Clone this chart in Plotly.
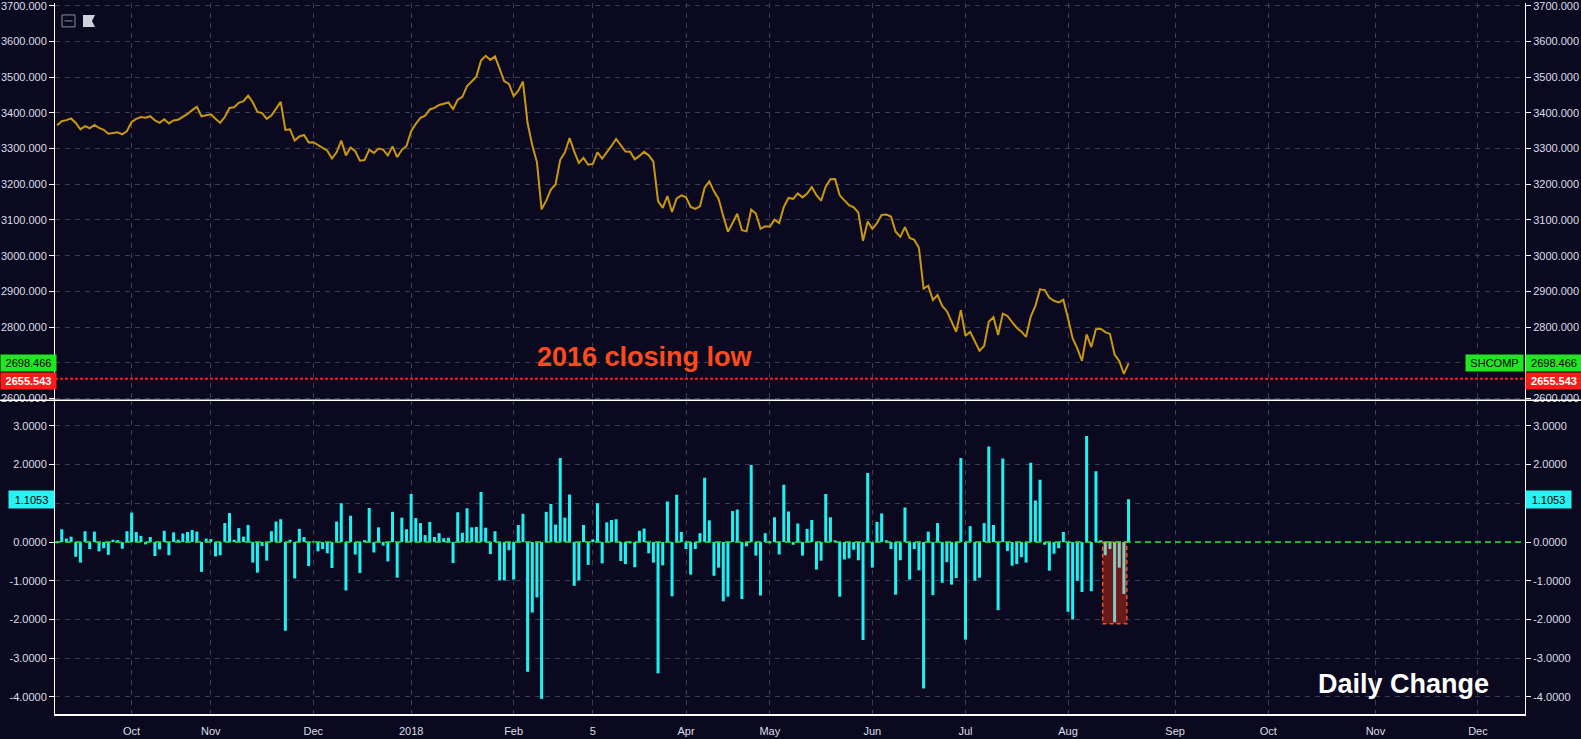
import pandas as pd
import plotly.graph_objects as go

# SHCOMP daily closes, trading days 2017-09-08 .. 2018-08-20
closes = [
    # Sep 2017
    3365.24, 3376.42, 3379.49, 3384.15, 3371.43, 3353.62, 3362.86, 3356.84, 3366.00, 3357.81,
    3352.53, 3341.55, 3343.58, 3345.27, 3339.64, 3348.94,
    # Oct
    3374.38, 3382.99, 3388.28, 3386.10, 3390.52, 3378.47, 3372.04, 3381.79, 3370.17, 3378.65,
    3380.70, 3388.25, 3396.90, 3407.57, 3416.81, 3390.34, 3393.34,
    # Nov
    3395.91, 3383.31, 3371.74, 3388.17, 3413.57, 3415.46, 3427.79, 3432.67, 3447.84, 3429.55,
    3402.52, 3399.25, 3382.91, 3392.40, 3410.50, 3430.46, 3351.92, 3353.82, 3322.23, 3333.66,
    3337.86, 3317.19,
    # Dec
    3317.62, 3309.62, 3303.68, 3293.96, 3272.05, 3289.45, 3322.20, 3280.81, 3303.04, 3292.44,
    3266.14, 3267.92, 3296.54, 3287.61, 3300.06, 3297.06, 3280.46, 3306.12, 3275.78, 3296.38,
    3307.17,
    # Jan 2018
    3348.33, 3369.11, 3385.71, 3391.75, 3409.48, 3413.90, 3421.83, 3425.34, 3428.94, 3410.49,
    3436.59, 3444.67, 3474.75, 3487.86, 3501.36, 3546.50, 3559.47, 3548.31, 3558.13, 3523.00,
    3488.01, 3480.83,
    # Feb
    3446.98, 3462.08, 3487.50, 3370.65, 3309.26, 3262.05, 3129.85, 3154.13, 3184.96, 3199.16,
    3268.56, 3289.02, 3329.57, 3292.07, 3259.41,
    # Mar
    3273.75, 3254.53, 3256.93, 3289.64, 3271.67, 3288.41, 3307.17, 3326.70, 3310.24, 3291.38,
    3291.11, 3269.88, 3279.25, 3290.64, 3280.95, 3263.48, 3152.76, 3133.72, 3166.65, 3122.29,
    3160.53, 3168.90,
    # Apr
    3163.18, 3136.63, 3131.11, 3138.29, 3190.32, 3208.08, 3180.16, 3159.05, 3110.65, 3066.80,
    3091.40, 3117.38, 3071.54, 3068.01, 3128.93, 3117.97, 3075.03, 3082.23,
    # May
    3081.18, 3100.86, 3091.03, 3136.64, 3161.50, 3159.15, 3174.41, 3163.26, 3174.03, 3192.12,
    3169.57, 3154.28, 3193.30, 3213.84, 3214.35, 3168.96, 3154.65, 3141.30, 3135.08, 3120.46,
    3041.44, 3095.47,
    # Jun
    3075.14, 3091.19, 3114.21, 3115.18, 3109.50, 3067.15, 3052.78, 3079.80, 3049.80, 3044.16,
    3021.90, 2907.82, 2915.73, 2875.81, 2889.76, 2859.34, 2844.51, 2813.18, 2786.90, 2847.42,
    # Jul
    2775.56, 2786.89, 2759.13, 2733.88, 2747.23, 2815.11, 2827.63, 2777.77, 2837.66, 2831.18,
    2814.04, 2798.13, 2787.26, 2772.55, 2829.27, 2859.54, 2905.56, 2903.65, 2882.23, 2873.59,
    2869.05, 2876.40,
    # Aug
    2824.53, 2768.02, 2740.44, 2705.16, 2779.37, 2744.07, 2794.38, 2795.31, 2785.87, 2780.96,
    2723.26, 2705.19, 2668.97, 2698.466,
]

# daily change (%) for the lower pane
changes = [
    -0.01, 0.33, 0.09, 0.14, -0.38, -0.53, 0.28, -0.18, 0.27, -0.24, -0.16, -0.33, 0.06, 0.05, -0.17, 0.28,
    0.76, 0.26, 0.16, -0.06, 0.13, -0.36, -0.19, 0.29, -0.34, 0.25, 0.06, 0.22, 0.26, 0.31, 0.27, -0.77, 0.09,
    0.08, -0.37, -0.34, 0.49, 0.75, 0.06, 0.36, 0.14, 0.44, -0.53, -0.79, -0.10, -0.48, 0.28, 0.53, 0.59,
    -2.29, 0.06, -0.94, 0.34, 0.13, -0.62,
    0.01, -0.24, -0.18, -0.29, -0.67, 0.53, 1.00, -1.25, 0.68, -0.32, -0.80, 0.05, 0.88, -0.27, 0.38, -0.09,
    -0.50, 0.78, -0.92, 0.63, 0.33,
    1.24, 0.62, 0.49, 0.18, 0.52, 0.13, 0.23, 0.10, 0.11, -0.54, 0.77, 0.24, 0.87, 0.38, 0.39, 1.29, 0.37,
    -0.31, 0.28, -0.99, -0.99, -0.21,
    -0.97, 0.44, 0.73, -3.35, -1.82, -1.43, -4.05, 0.78, 0.98, 0.45, 2.17, 0.63, 1.23, -1.13, -0.99,
    0.44, -0.59, 0.07, 1.00, -0.55, 0.51, 0.57, 0.59, -0.49, -0.57, -0.01, -0.65, 0.29, 0.35, -0.29, -0.53,
    -3.39, -0.60, 1.05, -1.40, 1.22, 0.26,
    -0.18, -0.84, -0.18, 0.23, 1.66, 0.56, -0.87, -0.66, -1.53, -1.41, 0.80, 0.84, -1.47, -0.11, 1.99, -0.35,
    -1.38, 0.23,
    -0.03, 0.64, -0.32, 1.48, 0.79, -0.07, 0.48, -0.35, 0.34, 0.57, -0.71, -0.48, 1.24, 0.64, 0.02, -1.41,
    -0.45, -0.42, -0.20, -0.47, -2.53, 1.78,
    -0.66, 0.52, 0.74, 0.03, -0.18, -1.36, -0.47, 0.89, -0.97, -0.18, -0.73, -3.78, 0.27, -1.37, 0.49, -1.05,
    -0.52, -1.10, -0.93, 2.17,
    -2.52, 0.41, -1.00, -0.92, 0.49, 2.47, 0.44, -1.76, 2.16, -0.23, -0.61, -0.57, -0.39, -0.53, 2.05, 1.07,
    1.61, -0.07, -0.74, -0.30, -0.16, 0.26,
    -1.80, -2.00, -1.00, -1.29, 2.74, -1.27, 1.83, 0.03, -0.34, -0.18, -2.07, -0.66, -1.34, 1.1053,
]

first_day = "2017-09-08"
last_day = "2018-08-20"
axis_end = "2018-12-31"
holidays = ["2017-10-02", "2017-10-03", "2017-10-04", "2017-10-05", "2017-10-06",
            "2018-01-01", "2018-02-15", "2018-02-16", "2018-02-19", "2018-02-20",
            "2018-02-21", "2018-04-05", "2018-04-06", "2018-04-30", "2018-05-01",
            "2018-06-18"]

tick_dates = ["2017-10-09", "2017-11-01", "2017-12-01", "2018-01-02", "2018-02-01",
              "2018-03-05", "2018-04-02", "2018-05-02", "2018-06-01", "2018-07-02",
              "2018-08-01", "2018-09-03", "2018-10-01", "2018-11-01", "2018-12-03"]
tick_text = ["Oct", "Nov", "Dec", "2018", "Feb", "5", "Apr", "May", "Jun", "Jul",
             "Aug", "Sep", "Oct", "Nov", "Dec"]

closing_low_2016 = 2655.543
highlight = ("2018-08-13", "2018-08-17")
symbol = "SHCOMP"

# trading-day slots: past sessions + plain weekdays for the empty future area
days = pd.bdate_range(first_day, last_day)
days = days[~days.isin(pd.to_datetime(holidays))]
future = pd.bdate_range(pd.Timestamp(last_day) + pd.Timedelta(days=1), axis_end)
slots = [d.strftime("%Y-%m-%d") for d in days] + [d.strftime("%Y-%m-%d") for d in future]
pos = {d: i for i, d in enumerate(slots)}
dates = slots[:len(days)]
assert len(dates) == len(closes) == len(changes)
xs = [pos[d] for d in dates]

bg = "#0a0920"
grid = "#3b3e52"
txt = "#dcdfe6"
gold = "#c9980f"
cyan = "#1cf2f2"
green = "#22e622"
red = "#ff1a1a"

W, H = 1581, 739
ML, MR, MT, MB = 55, 56, 0, 25
PW, PH = W - ML - MR, H - MT - MB
split = (PH - 399) / PH


def px_x(p):
    return (p - ML) / PW


def px_y(p):
    return (PH - p) / PH


top_range = [2594.9, 3707.5]
bot_range = [-4.44, 3.66]
bot_ticks = [-4, -3, -2, -1, 0, 1, 2, 3]
bot_text = [f"{v:.4f}" for v in bot_ticks]

bar_colors = ["#86c8b9" if highlight[0] <= d <= highlight[1] else cyan for d in dates]

fig = go.Figure()
fig.add_trace(go.Scatter(x=xs, y=closes, mode="lines", line=dict(color=gold, width=2),
                         yaxis="y", hoverinfo="skip"))
fig.add_trace(go.Bar(x=xs, y=changes, marker=dict(color=bar_colors, line=dict(width=0)),
                     yaxis="y2", hoverinfo="skip"))
# invisible points so the right-hand axes are drawn
fig.add_trace(go.Scatter(x=[xs[0]], y=[closes[0]], yaxis="y3", mode="markers",
                         marker=dict(opacity=0), hoverinfo="skip"))
fig.add_trace(go.Scatter(x=[xs[0]], y=[changes[0]], yaxis="y4", mode="markers",
                         marker=dict(opacity=0), hoverinfo="skip"))

ycommon = dict(showline=True, linecolor="white", linewidth=1, ticks="outside", ticklen=5,
               tickcolor="white", zeroline=False, ticklabeloverflow="allow",
               tickfont=dict(color=txt, size=11))

fig.update_layout(
    width=W, height=H, margin=dict(l=ML, r=MR, t=MT, b=MB),
    paper_bgcolor=bg, plot_bgcolor=bg, showlegend=False, bargap=0.35,
    font=dict(family="Arial", size=11, color=txt),
    xaxis=dict(range=[-0.45, 315.1], tickmode="array",
               tickvals=[pos[d] for d in tick_dates], ticktext=tick_text,
               showgrid=True, gridcolor=grid, griddash="5px,5px", gridwidth=1,
               showline=True, linecolor="white", linewidth=1.5, ticks="",
               ticklabelstandoff=6, zeroline=False, anchor="y2",
               tickfont=dict(color=txt, size=11)),
    yaxis=dict(domain=[split, 1], range=top_range, tick0=2600, dtick=100, tickformat=".3f",
               side="left", anchor="x", showgrid=True, gridcolor=grid, griddash="5px,5px",
               **ycommon),
    yaxis2=dict(domain=[0, split], range=bot_range, tickmode="array", tickvals=bot_ticks,
                ticktext=bot_text, side="left", anchor="x", showgrid=True, gridcolor=grid,
                griddash="5px,5px", **ycommon),
    yaxis3=dict(overlaying="y", range=top_range, tick0=2600, dtick=100, tickformat=".3f",
                side="right", anchor="x", showgrid=False, **ycommon),
    yaxis4=dict(overlaying="y2", range=bot_range, tickmode="array", tickvals=bot_ticks,
                ticktext=bot_text, side="right", anchor="x", showgrid=False, **ycommon),
)

hl_changes = [c for d, c in zip(dates, changes) if highlight[0] <= d <= highlight[1]]
shapes = [
    # pane separator
    dict(type="line", xref="paper", yref="paper", x0=px_x(0), x1=px_x(W), y0=split, y1=split,
         line=dict(color="white", width=1.5)),
    # 2016 closing low
    dict(type="line", xref="paper", yref="y", x0=0, x1=1, y0=closing_low_2016, y1=closing_low_2016,
         line=dict(color=red, width=2, dash="3px,2px")),
    # zero line of the change pane
    dict(type="line", xref="paper", yref="y2", x0=0, x1=1, y0=0, y1=0,
         line=dict(color=green, width=1.5, dash="6px,4px")),
    # highlighted sell-off box
    dict(type="rect", xref="x", yref="y2", x0=pos[highlight[0]] - 0.55, x1=pos[highlight[1]] + 0.62,
         y0=0, y1=min(hl_changes) - 0.04, fillcolor="#6b1a1c",
         line=dict(color="#f0502a", width=1.5, dash="4px,3px"), layer="between"),
    # toolbar icons
    dict(type="rect", xref="paper", yref="paper", x0=px_x(62), x1=px_x(75), y0=px_y(12), y1=px_y(24),
         line=dict(color="#8b8e9a", width=1)),
    dict(type="line", xref="paper", yref="paper", x0=px_x(64.5), x1=px_x(72.5), y0=px_y(18), y1=px_y(18),
         line=dict(color="#8b8e9a", width=1)),
    dict(type="path", xref="paper", yref="paper",
         path=(f"M {px_x(83)} {px_y(12)} L {px_x(95)} {px_y(12)} L {px_x(92)} {px_y(18)} "
               f"L {px_x(95)} {px_y(24)} L {px_x(83)} {px_y(24)} Z"),
         fillcolor="#cfd2d9", line=dict(width=0)),
]
fig.update_layout(shapes=shapes)

last_close = closes[-1]
last_change = changes[-1]
lab = dict(showarrow=False, borderpad=0, font=dict(family="Arial", size=11, color="black"))
annotations = [
    dict(text=f"{last_close:.3f}", xref="paper", yref="y", x=px_x(0), xanchor="left", y=last_close,
         yanchor="middle", width=55, height=16, bgcolor=green, **lab),
    dict(text=f"{last_close:.3f}", xref="paper", yref="y", x=1, xanchor="left", y=last_close,
         yanchor="middle", width=56, height=16, bgcolor=green, **lab),
    dict(text=symbol, xref="paper", yref="y", x=px_x(1524), xanchor="right", y=last_close,
         yanchor="middle", width=57, height=16, bgcolor=green, **lab),
    dict(text=f"<b>{closing_low_2016:.3f}</b>", xref="paper", yref="y", x=px_x(0), xanchor="left",
         y=closing_low_2016, yshift=-2, yanchor="middle", width=55, height=16, bgcolor=red,
         showarrow=False, borderpad=0, font=dict(family="Arial", size=11, color="white")),
    dict(text=f"<b>{closing_low_2016:.3f}</b>", xref="paper", yref="y", x=1, xanchor="left",
         y=closing_low_2016, yshift=-2, yanchor="middle", width=56, height=16, bgcolor=red,
         showarrow=False, borderpad=0, font=dict(family="Arial", size=11, color="white")),
    dict(text=f"{last_change:.4f}", xref="paper", yref="y2", x=0, xanchor="right", y=last_change,
         yanchor="middle", width=45, height=17, bgcolor="#2af2f2", **lab),
    dict(text=f"{last_change:.4f}", xref="paper", yref="y2", x=1, xanchor="left", y=last_change,
         yanchor="middle", width=45, height=17, bgcolor="#2af2f2", **lab),
    dict(text="<b>2016 closing low</b>", xref="paper", yref="y", x=px_x(645), xanchor="center",
         y=2715, yanchor="middle", showarrow=False,
         font=dict(family="Arial", size=27, color="#ff4a1d")),
    dict(text="<b>Daily Change</b>", xref="paper", yref="paper", x=px_x(1491), xanchor="right",
         y=px_y(684), yanchor="middle", showarrow=False,
         font=dict(family="Arial", size=27, color="white")),
]
fig.update_layout(annotations=annotations)

page_css = ("document.body.style.margin='0';"
            "document.body.style.background='" + bg + "';"
            "document.body.style.overflow='hidden';")
fig.write_html("out.html", post_script=page_css, config={"displayModeBar": False})
